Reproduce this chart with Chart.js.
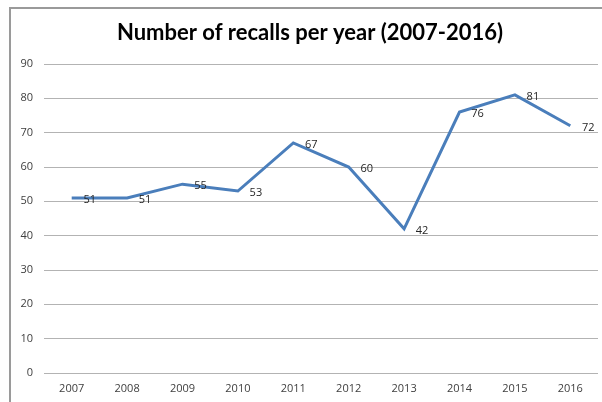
<!DOCTYPE html>
<html>
    <head>
        <title>Number of recalls per year</title>
        <script src="https://cdn.jsdelivr.net/npm/chart.js"></script>
        <style>
         body { margin: 0; background: white; }
         #recalls { position: absolute; left: 0; top: 0; }
        </style>
    </head>
    <body>
        <canvas id="recalls" width="602" height="402"></canvas>
        <script>
        const years = ["2007", "2008", "2009", "2010", "2011", "2012", "2013", "2014", "2015", "2016"];
        const recalls = [51, 51, 55, 53, 67, 60, 42, 76, 81, 72];
        const yTicks = [0, 10, 20, 30, 40, 50, 60, 70, 80, 90];
        const titleText = 'Number of recalls per year (2007-2016)';

        // grey frame (top and left edges) plus the title, centred on the frame
        const frame = {
            id: 'frame',
            beforeDraw(chart) {
                const c = chart.ctx;
                c.save();
                c.fillStyle = '#9a9a9a';
                c.fillRect(9, 7, 593, 2);
                c.fillRect(9, 7, 2, 395);
                c.font = 'bold 22px Lato';
                c.fillStyle = '#000000';
                c.textAlign = 'center';
                c.textBaseline = 'middle';
                c.fillText(titleText, 310, 33);
                c.restore();
            }
        };

        // value labels to the right of each point
        const valueLabels = {
            id: 'valueLabels',
            afterDatasetsDraw(chart) {
                const c = chart.ctx;
                const meta = chart.getDatasetMeta(0);
                c.save();
                c.font = '11px "Open Sans"';
                c.fillStyle = '#262626';
                c.textAlign = 'center';
                c.textBaseline = 'middle';
                meta.data.forEach((pt, i) => {
                    c.fillText(recalls[i], pt.x + 18, pt.y + 2);
                });
                c.restore();
            }
        };

        const ctx = document.getElementById('recalls').getContext('2d');
        new Chart(ctx, {
            type: 'line',
            data: {
                labels: years,
                datasets: [{
                    data: recalls,
                    borderColor: '#4a7ebb',
                    borderWidth: 3,
                    pointRadius: 0,
                    tension: 0,
                    fill: false
                }]
            },
            options: {
                responsive: false,
                animation: false,
                layout: { padding: { left: 0, right: 4, top: 64, bottom: 0 } },
                plugins: {
                    legend: { display: false },
                    tooltip: { enabled: false },
                    title: { display: false }
                },
                scales: {
                    x: {
                        offset: true,
                        grid: { display: false, drawTicks: false },
                        border: { display: false },
                        ticks: {
                            color: '#404040',
                            font: { family: 'Open Sans', size: 11 },
                            padding: 9,
                            maxRotation: 0
                        },
                        afterFit(scale) { scale.height = 29; }
                    },
                    y: {
                        min: 0,
                        max: 90,
                        afterBuildTicks(scale) { scale.ticks = yTicks.map(v => ({ value: v })); },
                        grid: { color: '#b3b3b3', lineWidth: 1, drawTicks: false },
                        border: { display: false },
                        ticks: {
                            color: '#404040',
                            font: { family: 'Open Sans', size: 11 },
                            padding: 11
                        },
                        afterFit(scale) { scale.width = 44; }
                    }
                }
            },
            plugins: [frame, valueLabels]
        });
        </script>
    </body>
</html>
